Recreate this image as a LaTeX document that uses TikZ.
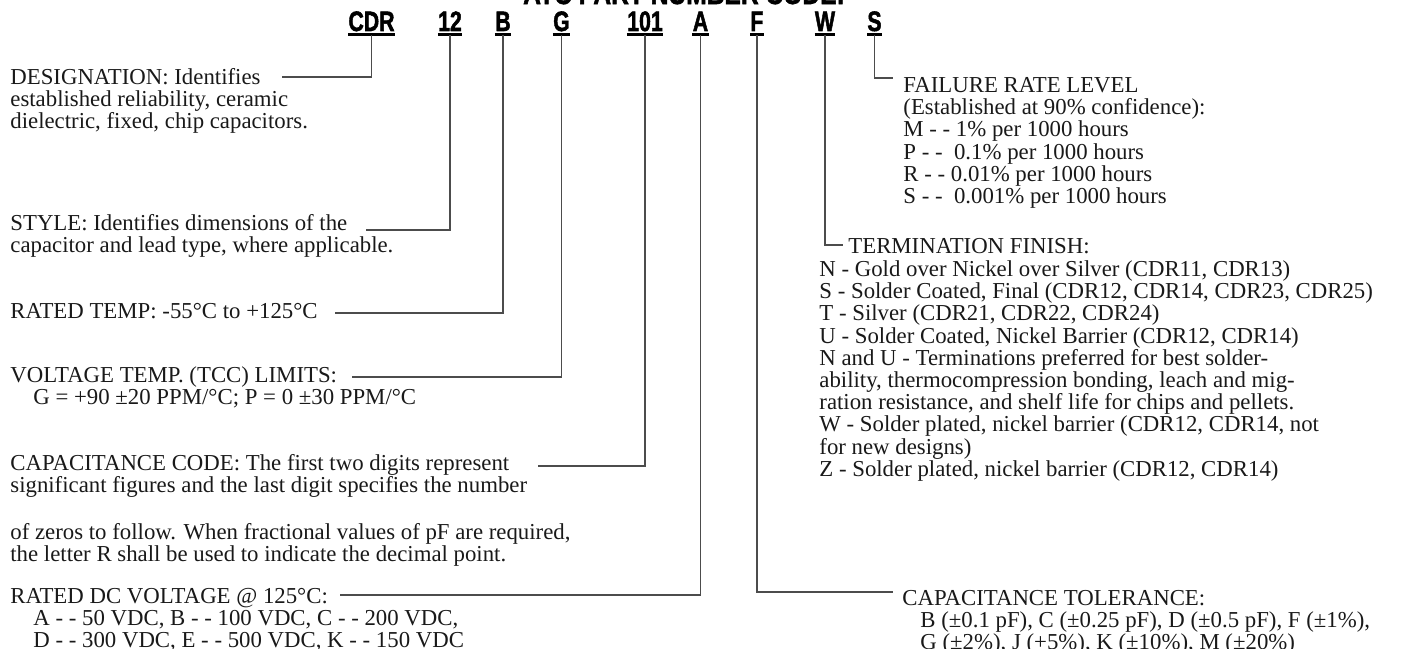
\documentclass[tikz,border=0pt]{standalone}
\usepackage{fontspec}
\setmainfont{Liberation Serif}
\newfontfamily\codefont[FakeBold=2]{Liberation Sans}
\newcommand\fl{\rule{0pt}{8pt}}
\begin{document}
\begin{tikzpicture}[x=0.5pt,y=-0.5pt,
  txt/.style={anchor=north west,inner sep=0pt,align=left,text=black!90,
    font=\fontsize{11.4}{11.1}\selectfont},
  codebox/.style={anchor=base,inner sep=0pt,text depth=0pt,
    font=\codefont\bfseries\fontsize{14}{14}\selectfont},
  titlebox/.style={anchor=base,inner sep=0pt,font=\codefont\bfseries\fontsize{15}{15}\selectfont},
  uline/.style={line width=1.1pt,black},
  conn/.style={line width=0.65pt,black!70}]
\useasboundingbox (0,0) rectangle (1403,648);
% title (mostly cut off)
\node[titlebox] (ttl) at (684,4) {\scalebox{0.82}[1]{ATC PART NUMBER CODE:}};
% code letters
\node[codebox] (cdr) at (371.5,31) {\scalebox{0.76}[1]{CDR}};
\node[codebox] (c12) at (450,31) {\scalebox{0.76}[1]{12}};
\node[codebox] (cB) at (503,31) {\scalebox{0.76}[1]{B}};
\node[codebox] (cG) at (561.5,31) {\scalebox{0.76}[1]{G}};
\node[codebox] (c101) at (645,31) {\scalebox{0.76}[1]{101}};
\node[codebox] (cA) at (700.5,31) {\scalebox{0.76}[1]{A}};
\node[codebox] (cF) at (757,31) {\scalebox{0.76}[1]{F}};
\node[codebox] (cW) at (825,31) {\scalebox{0.76}[1]{W}};
\node[codebox] (cS) at (874.5,31) {\scalebox{0.76}[1]{S}};
\foreach \n in {cdr,c12,cB,cG,c101,cA,cF,cW,cS}{
  \draw[uline] ([yshift=-1.5pt]\n.south west) -- ([yshift=-1.5pt]\n.south east);
}
% left texts (y = first baseline - 16)
\node[txt] (desig) at (10,68) {\fl DESIGNATION: Identifies\\established reliability, ceramic\\dielectric, fixed, chip capacitors.};
\node[txt] (style) at (10,214) {\fl STYLE: Identifies dimensions of the\\capacitor and lead type, where applicable.};
\node[txt] (rtemp) at (10,302) {\fl RATED TEMP: -55\textdegree C to +125\textdegree C};
\node[txt] (vtemp) at (10,366) {\fl VOLTAGE TEMP. (TCC) LIMITS:\\\hspace*{11.5pt}G = +90 \textpm 20 PPM/\textdegree C; P = 0 \textpm 30 PPM/\textdegree C};
\node[txt] (capcode) at (10,454) {\fl CAPACITANCE CODE: The first two digits represent\\significant figures and the last digit specifies the number};
\node[txt] (capcode2) at (10,523) {\fl of zeros to follow. When fractional values of pF are required,\\the letter R shall be used to indicate the decimal point.};
\node[txt] (rdc) at (10,587) {\fl RATED DC VOLTAGE @ 125\textdegree C:\\\hspace*{11.5pt}A - - 50 VDC, B - - 100 VDC, C - - 200 VDC,\\\hspace*{11.5pt}D - - 300 VDC, E - - 500 VDC, K - - 150 VDC};
% right texts
\node[txt] (fail) at (903,76) {\fl FAILURE RATE LEVEL\\(Established at 90\% confidence):\\M - - 1\% per 1000 hours\\P - - \ 0.1\% per 1000 hours\\R - - 0.01\% per 1000 hours\\S - - \ 0.001\% per 1000 hours};
\node[txt] (term) at (848,237) {\fl TERMINATION FINISH:};
\node[txt] (termlist) at (819,260) {\fl N - Gold over Nickel over Silver (CDR11, CDR13)\\S - Solder Coated, Final (CDR12, CDR14, CDR23, CDR25)\\T - Silver (CDR21, CDR22, CDR24)\\U - Solder Coated, Nickel Barrier (CDR12, CDR14)\\N and U - Terminations preferred for best solder-\\ability, thermocompression bonding, leach and mig-\\ration resistance, and shelf life for chips and pellets.\\W - Solder plated, nickel barrier (CDR12, CDR14, not\\for new designs)\\Z - Solder plated, nickel barrier (CDR12, CDR14)};
\node[txt] (tol) at (902,589) {\fl CAPACITANCE TOLERANCE:\\\hspace*{9pt}B (\textpm 0.1 pF), C (\textpm 0.25 pF), D (\textpm 0.5 pF), F (\textpm 1\%),\\\hspace*{9pt}G (\textpm 2\%), J (+5\%), K (\textpm 10\%), M (\textpm 20\%)};
% connector ends
\coordinate (eD) at (282,77);
\coordinate (eST) at (366,230);
\coordinate (eRT) at (335,313);
\coordinate (eVT) at (352,377);
\coordinate (eCC) at (538,466);
\coordinate (eRD) at (340,595);
\coordinate (eTO) at (893,592);
\coordinate (eTF) at (843,245);
\coordinate (eFR) at (893,78);
\draw[conn] ([yshift=-2pt]cdr.south) |- (eD);
\draw[conn] ([yshift=-2pt]c12.south) |- (eST);
\draw[conn] ([yshift=-2pt]cB.south) |- (eRT);
\draw[conn] ([yshift=-2pt]cG.south) |- (eVT);
\draw[conn] ([yshift=-2pt]c101.south) |- (eCC);
\draw[conn] ([yshift=-2pt]cA.south) |- (eRD);
\draw[conn] ([yshift=-2pt]cF.south) |- (eTO);
\draw[conn] ([yshift=-2pt]cW.south) |- (eTF);
\draw[conn] ([yshift=-2pt]cS.south) |- (eFR);
\end{tikzpicture}
\end{document}
